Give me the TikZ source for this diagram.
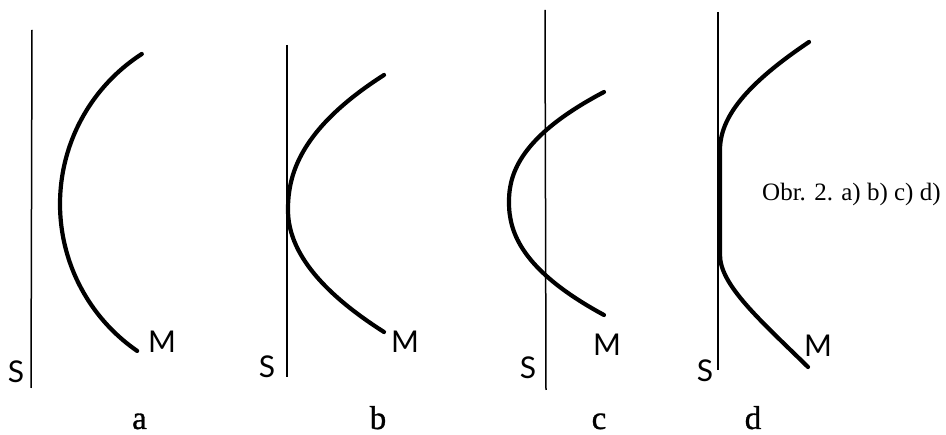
\documentclass[tikz,border=0pt]{standalone}
\usepackage{fontspec}
\setmainfont{Liberation Serif}
\newfontfamily\labelsans{Lato}
\newfontfamily\panelfont[FakeBold=1]{Liberation Serif}
\begin{document}
\begin{tikzpicture}[x=1pt,y=-1pt,
  wall/.style={line width=1.5pt, black},
  curve/.style={line width=4.2pt, line cap=round, line join=round},
  lbl/.style={font=\labelsans\fontsize{30}{30}\selectfont, anchor=base, inner sep=0pt},
  sublbl/.style={font=\panelfont\fontsize{33}{33}\selectfont, anchor=base, inner sep=0pt}]
\useasboundingbox (0,0) rectangle (946,435);
% panel a : circular arc
\draw[wall] (32,30) -- (31,388);
\draw[curve] plot[domain=-57.2:55.4, samples=60, smooth] ({238.5-178.5*cos(\x)},{204+178.5*sin(\x)});
\node[lbl] (Sa) at (16,383) {S};
\node[lbl] (Ma) at (162,353) {M};
\node[sublbl] (la) at (139.5,429) {a};
% panel b : vertex touching the wall
\draw[wall] (287,45) -- (287,377);
\draw[curve] plot[domain=-135:0, samples=40, smooth] ({288+96*pow(abs(\x)/135,2.2)},{210+\x})
  -- plot[domain=0:122, samples=40, smooth] ({288+96*pow(\x/122,2)},{210+\x});
\node[lbl] (Sb) at (267,378) {S};
\node[lbl] (Mb) at (405,353) {M};
\node[sublbl] (lb) at (378,429) {b};
% panel c : crossing the wall
\draw[wall] (545,10) -- (546,390);
\draw[curve] plot[domain=-110:0, samples=40, smooth] ({509+95*pow(abs(\x)/110,2.2)},{202+\x})
  -- plot[domain=0:113, samples=40, smooth] ({509+95*pow(\x/113,2.2)},{202+\x});
\node[lbl] (Sc) at (528,379) {S};
\node[lbl] (Mc) at (607,356) {M};
\node[sublbl] (lc) at (599,429) {c};
% panel d : running along the wall
\draw[wall] (718,12) -- (718,370);
\draw[curve] (809,42) .. controls (745,85) and (720,118) .. (720,150) -- (720,255)
  .. controls (720,285) and (760,320) .. (808,367);
\node[lbl] (Sd) at (705,382) {S};
\node[lbl] (Md) at (818,357) {M};
\node[sublbl] (ld) at (753,429) {d};
% caption
\node[font=\fontsize{25}{25}\selectfont, anchor=base west, inner sep=0pt] (obr) at (762,201) {Obr. 2. a) b) c) d)};
\end{tikzpicture}
\end{document}
